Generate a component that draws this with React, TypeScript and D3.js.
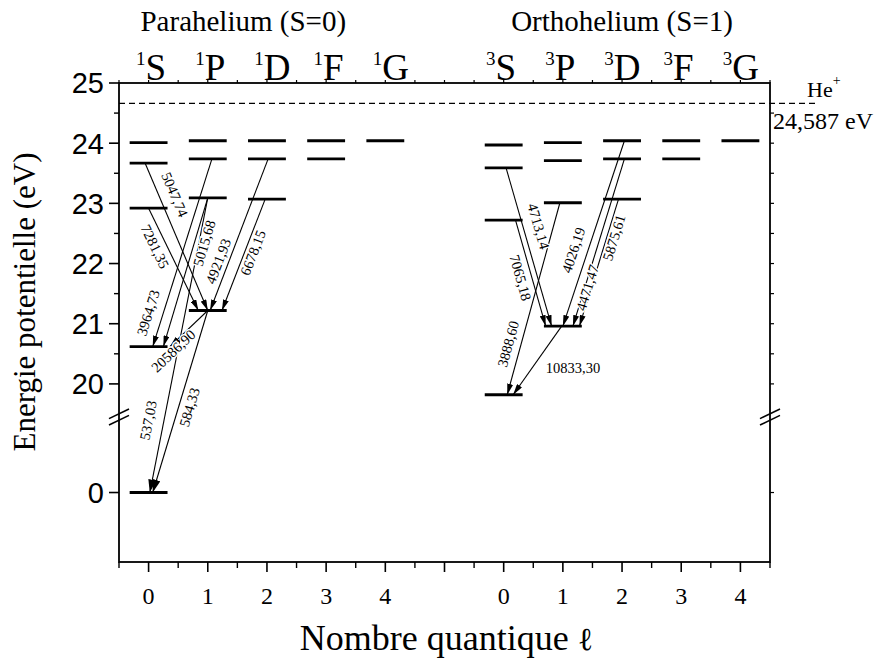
import * as d3 from "d3";

// termes spectroscopiques
const orbitalLetters = ["S", "P", "D", "F", "G"];
const lValues = [0, 1, 2, 3, 4];

// niveaux d'énergie (eV), une liste par valeur de l
const paraLevels = [
  [0, 20.62, 22.92, 23.67, 24.01],
  [21.22, 23.09, 23.74, 24.04],
  [23.07, 23.74, 24.04],
  [23.74, 24.04],
  [24.04],
];
const orthoLevels = [
  [19.82, 22.72, 23.59, 23.97],
  [20.96, 23.01, 23.71, 24.01],
  [23.07, 23.74, 24.04],
  [23.74, 24.04],
  [24.04],
];

// limite d'ionisation (valeur affichée / position)
const ionisationLabel = "24,587 eV";
const ionisationDrawn = 24.66;

// graduations
const yMajorUpper = [20, 21, 22, 23, 24, 25];
const yMinorUpper = [20.5, 21.5, 22.5, 23.5, 24.5];
const yMajorLower = [0];

interface Transition {
  label: string; // longueur d'onde (Å)
  l1: number;
  e1: number;
  l2: number;
  e2: number;
}

const paraTransitions: Transition[] = [
  { label: "5047,74", l1: 0, e1: 23.67, l2: 1, e2: 21.22 },
  { label: "7281,35", l1: 0, e1: 22.92, l2: 1, e2: 21.22 },
  { label: "5015,68", l1: 1, e1: 23.09, l2: 0, e2: 20.62 },
  { label: "3964,73", l1: 1, e1: 23.74, l2: 0, e2: 20.62 },
  { label: "4921,93", l1: 2, e1: 23.74, l2: 1, e2: 21.22 },
  { label: "6678,15", l1: 2, e1: 23.07, l2: 1, e2: 21.22 },
  { label: "20586,90", l1: 1, e1: 21.22, l2: 0, e2: 20.62 },
  { label: "537,03", l1: 1, e1: 23.09, l2: 0, e2: 0 },
  { label: "584,33", l1: 1, e1: 21.22, l2: 0, e2: 0 },
];

const orthoTransitions: Transition[] = [
  { label: "4713,14", l1: 0, e1: 23.59, l2: 1, e2: 20.96 },
  { label: "7065,18", l1: 0, e1: 22.72, l2: 1, e2: 20.96 },
  { label: "3888,60", l1: 1, e1: 23.01, l2: 0, e2: 19.82 },
  { label: "10833,30", l1: 1, e1: 20.96, l2: 0, e2: 19.82 },
  { label: "4026,19", l1: 2, e1: 24.04, l2: 1, e2: 20.96 },
  { label: "4471,47", l1: 2, e1: 23.74, l2: 1, e2: 20.96 },
  { label: "5875,61", l1: 2, e1: 23.07, l2: 1, e2: 20.96 },
];

// mise en page: décalage des extrémités des flèches (en unités de l)
const arrowShift: Record<string, [number, number]> = {
  "5047,74": [-0.06, 0],
  "7281,35": [0, -0.16],
  "5015,68": [0, 0.25],
  "3964,73": [0.07, 0.07],
  "4921,93": [0.02, 0.04],
  "6678,15": [-0.03, 0.24],
  "20586,90": [0, 0.36],
  "537,03": [0, 0.02],
  "584,33": [0, 0.07],
  "4713,14": [0.04, -0.19],
  "7065,18": [0.2, -0.29],
  "3888,60": [-0.05, 0.06],
  "10833,30": [-0.02, 0.16],
  "4026,19": [0.04, 0],
  "4471,47": [0.04, 0.17],
  "5875,61": [-0.06, 0.28],
};

// mise en page des étiquettes: position le long de la flèche, décalage perpendiculaire
const labelPlace: Record<string, { t: number; off: number; flat?: number }> = {
  "5047,74": { t: 0.254, off: -15 },
  "7281,35": { t: 0.327, off: 11 },
  "5015,68": { t: 0.286, off: 9.5 },
  "3964,73": { t: 0.843, off: -14.5 },
  "4921,93": { t: 0.698, off: -10 },
  "6678,15": { t: 0.455, off: 8 },
  "20586,90": { t: 1.01, off: 5.5 },
  "537,03": { t: 0.765, off: -15.5 },
  "584,33": { t: 0.515, off: 10.5 },
  "4713,14": { t: 0.395, off: -15 },
  "7065,18": { t: 0.514, off: 11 },
  "3888,60": { t: 0.753, off: -12.5 },
  "10833,30": { t: 0.612, off: 0, flat: 41 },
  "4026,19": { t: 0.614, off: -14 },
  "4471,47": { t: 0.766, off: 2.5 },
  "5875,61": { t: 0.287, off: 7 },
};

const SERIF = "'Liberation Serif', 'Times New Roman', serif";
const SANS = "'Liberation Sans', Arial, sans-serif";

export default function App() {
  const W = 880;
  const H = 661;
  const left = 119;
  const right = 770;
  const top = 83;
  const bottom = 562;
  const breakY = 417;

  const x = d3.scaleLinear().domain([-0.5, 10.5]).range([left, right]);
  const y = d3
    .scaleLinear()
    .domain([-1.15, 1.25, 19.45, 25])
    .range([bottom, breakY, breakY, top]);

  const groups = [
    { title: "Parahelium (S=0)", mult: "1", offset: 0, titleAt: 1.6, termShift: -12.6, levels: paraLevels, transitions: paraTransitions },
    { title: "Orthohelium (S=1)", mult: "3", offset: 6, titleAt: 8, termShift: -17.7, levels: orthoLevels, transitions: orthoTransitions },
  ];

  const halfBar = 0.32;
  const xMajor = d3.range(0, 11);
  const xMinor = d3.range(-0.5, 11, 1);

  const breakMarks = (bx: number) =>
    [-3.2, 3.2].map((s, i) => (
      <line key={`${bx}-${i}`} x1={bx - 10} y1={breakY + 4.8 + s} x2={bx + 10} y2={breakY - 4.8 + s} stroke="#000" strokeWidth={1.6} />
    ));

  return (
    <svg width={W} height={H} style={{ position: "absolute", left: 0, top: 0, background: "#fff" }}>
      <defs>
        <marker id="head" viewBox="0 0 11 6" markerWidth={11} markerHeight={6} refX={11} refY={3} orient="auto" markerUnits="userSpaceOnUse">
          <path d="M0,0 L11,3 L0,6 Z" fill="#000" />
        </marker>
        <marker id="headBig" viewBox="0 0 13 8" markerWidth={13} markerHeight={8} refX={13} refY={4} orient="auto" markerUnits="userSpaceOnUse">
          <path d="M0,0 L13,4 L0,8 Z" fill="#000" />
        </marker>
      </defs>

      {/* cadre */}
      <rect x={left} y={top} width={right - left} height={bottom - top} fill="none" stroke="#000" strokeWidth={1.8} />

      {/* graduations gauche */}
      {yMajorUpper.concat(yMajorLower).map((v) => (
        <g key={`ly${v}`}>
          <line x1={left - 10} x2={left} y1={y(v)} y2={y(v)} stroke="#000" strokeWidth={1.6} />
          <text x={left - 15} y={y(v)} dy="0.36em" textAnchor="end" fontFamily={SANS} fontSize={29}>
            {v}
          </text>
        </g>
      ))}
      {yMinorUpper.map((v) => (
        <line key={`lm${v}`} x1={left - 5} x2={left} y1={y(v)} y2={y(v)} stroke="#000" strokeWidth={1.4} />
      ))}
      {/* graduations droite */}
      {yMajorUpper.slice(0, -1).concat(yMinorUpper, yMajorLower).map((v) => (
        <line key={`ry${v}`} x1={right} x2={right + 4} y1={y(v)} y2={y(v)} stroke="#000" strokeWidth={1.2} />
      ))}
      {breakMarks(left)}
      {breakMarks(right)}

      {/* graduations bas / haut */}
      {xMajor.map((v) => (
        <g key={`bx${v}`}>
          <line x1={x(v)} x2={x(v)} y1={bottom} y2={bottom + 10} stroke="#000" strokeWidth={1.6} />
          <line x1={x(v)} x2={x(v)} y1={top} y2={top - 3} stroke="#000" strokeWidth={1.2} />
        </g>
      ))}
      {xMinor.map((v) => (
        <g key={`bm${v}`}>
          <line x1={x(v)} x2={x(v)} y1={bottom} y2={bottom + 6} stroke="#000" strokeWidth={1.4} />
          <line x1={x(v)} x2={x(v)} y1={top} y2={top - 3} stroke="#000" strokeWidth={1.2} />
        </g>
      ))}
      {groups.map((g) =>
        lValues.map((l) => (
          <text key={`xl${g.offset}${l}`} x={x(g.offset + l)} y={604} textAnchor="middle" fontFamily={SERIF} fontSize={24}>
            {l}
          </text>
        ))
      )}

      {/* limite d'ionisation */}
      <line x1={left} x2={right + 48} y1={y(ionisationDrawn)} y2={y(ionisationDrawn)} stroke="#000" strokeWidth={1.3} strokeDasharray="6,4" />
      <text x={right + 37} y={97} fontFamily={SERIF} fontSize={22}>
        He<tspan fontSize={14} dy={-12}>+</tspan>
      </text>
      <text x={right + 3} y={129} fontFamily={SERIF} fontSize={24}>
        {ionisationLabel}
      </text>

      {groups.map((g) => (
        <g key={g.title}>
          <text x={x(g.titleAt)} y={31} textAnchor="middle" fontFamily={SERIF} fontSize={29}>
            {g.title}
          </text>
          {lValues.map((l) => (
            <text key={`t${l}`} x={x(g.offset + l) + g.termShift} y={80} fontFamily={SERIF}>
              <tspan fontSize={19} dy={-15}>{g.mult}</tspan>
              <tspan fontSize={37} dy={15}>{orbitalLetters[l]}</tspan>
            </text>
          ))}

          {/* transitions */}
          {g.transitions.map((tr) => {
            const [s1, s2] = arrowShift[tr.label];
            const x1 = x(g.offset + tr.l1 + s1);
            const y1 = y(tr.e1);
            const x2 = x(g.offset + tr.l2 + s2);
            const y2 = y(tr.e2);
            return (
              <line key={`a${tr.label}`} x1={x1} y1={y1} x2={x2} y2={y2} stroke="#000" strokeWidth={1.1}
                markerEnd={tr.e2 === 0 ? "url(#headBig)" : "url(#head)"} />
            );
          })}
          {g.transitions.map((tr) => {
            const [s1, s2] = arrowShift[tr.label];
            const x1 = x(g.offset + tr.l1 + s1);
            const y1 = y(tr.e1);
            const x2 = x(g.offset + tr.l2 + s2);
            const y2 = y(tr.e2);
            const p = labelPlace[tr.label];
            const dx = x2 - x1;
            const dy = y2 - y1;
            const px = x1 + p.t * dx;
            const py = y1 + p.t * dy;
            let ang = (Math.atan2(dy, dx) * 180) / Math.PI;
            if (dx < 0) ang -= 180;
            const transform = p.flat !== undefined
              ? `translate(${px + p.flat},${py})`
              : `translate(${px},${py}) rotate(${ang}) translate(0,${p.off})`;
            return (
              <text key={`l${tr.label}`} transform={transform} textAnchor="middle" dominantBaseline="central"
                fontFamily={SERIF} fontSize={14.5} stroke="#fff" strokeWidth={3} paintOrder="stroke" fill="#000">
                {tr.label}
              </text>
            );
          })}

          {/* niveaux */}
          {g.levels.map((ls, l) =>
            ls.map((e, k) => (
              <line key={`n${l}-${k}`} x1={x(g.offset + l - halfBar)} x2={x(g.offset + l + halfBar)} y1={y(e)} y2={y(e)}
                stroke="#000" strokeWidth={2.8} />
            ))
          )}
        </g>
      ))}

      {/* titres des axes */}
      <text transform={`translate(35,302) rotate(-90)`} textAnchor="middle" fontFamily={SERIF} fontSize={31}>
        Energie potentielle (eV)
      </text>
      <text x={(left + right) / 2 + 2} y={650} textAnchor="middle" fontFamily={SERIF} fontSize={36}>
        Nombre quantique <tspan fontFamily="'DejaVu Serif', serif" fontSize={32}>ℓ</tspan>
      </text>
    </svg>
  );
}
